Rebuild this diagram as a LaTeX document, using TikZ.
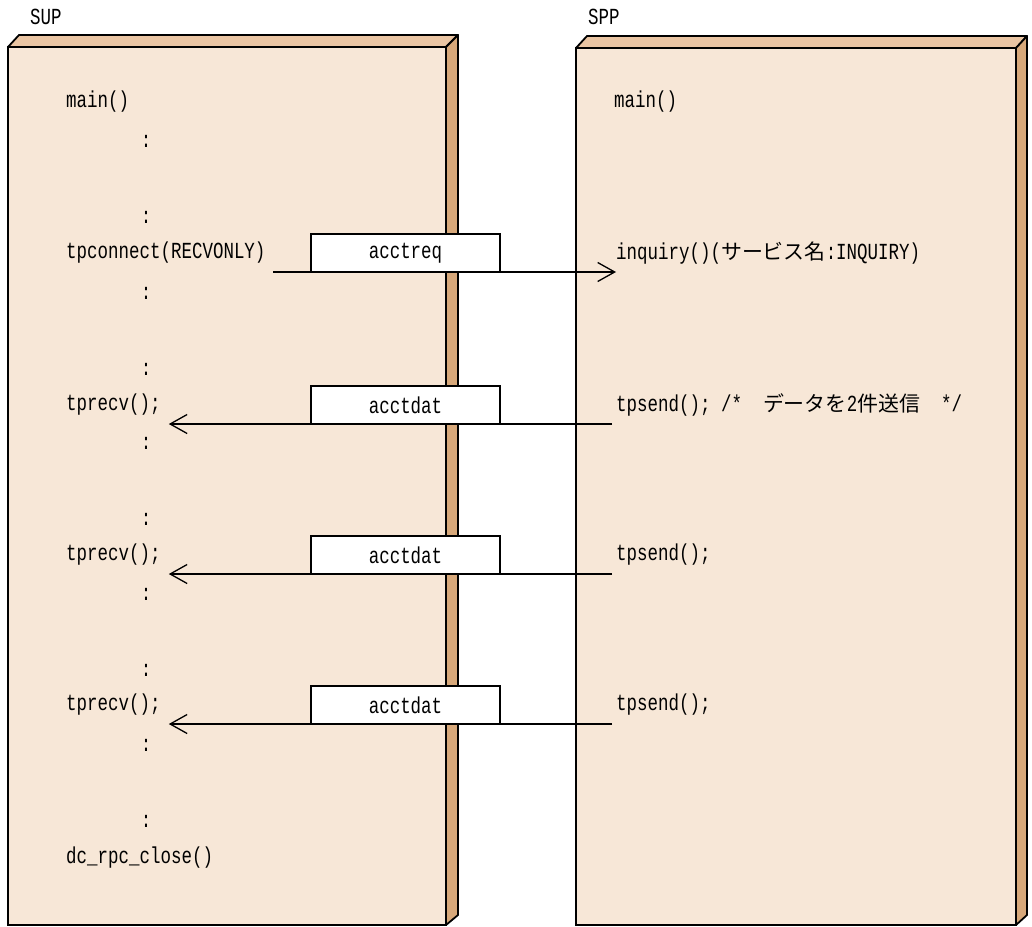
\documentclass[tikz,border=0pt]{standalone}
\usepackage{fontspec}
\setmainfont{Liberation Mono}[FakeStretch=0.76]
\newfontfamily\jpfont{Noto Sans CJK JP}[Scale=0.91]
\usetikzlibrary{arrows.meta}
\definecolor{face}{RGB}{247,231,215}
\definecolor{lid}{RGB}{234,197,163}
\definecolor{edge}{RGB}{215,168,122}
\tikzset{
  every node/.style={font=\fontsize{23}{27}\selectfont,inner sep=0pt},
  code/.style={anchor=west},
  dots/.style={anchor=center},
  msgbox/.style={draw,fill=white,line width=1.3pt,minimum width=189pt,minimum height=38pt},
  msg/.style={line width=1.3pt,-{Straight Barb[length=17pt,width=19pt,line width=1.3pt]}}
}
\begin{document}
\begin{tikzpicture}[x=1pt,y=-1pt]
  \useasboundingbox (0,0) rectangle (1032,926);
  % SUP panel
  \filldraw[fill=face,line width=1.8pt] (8,47) rectangle (446,925);
  \filldraw[fill=lid,line width=1.8pt,line join=round] (8,47) -- (19,35) -- (458,35) -- (446,47) -- cycle;
  \filldraw[fill=edge,line width=1.8pt,line join=round] (446,47) -- (458,35) -- (458,915) -- (446,925) -- cycle;
  % SPP panel
  \filldraw[fill=face,line width=1.8pt] (576,48) rectangle (1016,925);
  \filldraw[fill=lid,line width=1.8pt,line join=round] (576,48) -- (587,36) -- (1027,36) -- (1016,48) -- cycle;
  \filldraw[fill=edge,line width=1.8pt,line join=round] (1016,48) -- (1027,36) -- (1027,915) -- (1016,925) -- cycle;
  \node[code] (sup) at (30,17) {SUP};
  \node[code] (spp) at (588,17) {SPP};
  % SUP side
  \node[code] (main1) at (66,102) {main()};
  \node[dots] at (146,141) {:};
  \node[dots] at (146,217) {:};
  \node[code] (conn) at (66,253) {tpconnect(RECVONLY)};
  \node[dots] at (146,293) {:};
  \node[dots] at (146,369) {:};
  \node[code] (recv1) at (66,405) {tprecv();};
  \node[dots] at (146,443) {:};
  \node[dots] at (146,519) {:};
  \node[code] (recv2) at (66,555) {tprecv();};
  \node[dots] at (146,594) {:};
  \node[dots] at (146,670) {:};
  \node[code] (recv3) at (66,705) {tprecv();};
  \node[dots] at (146,745) {:};
  \node[dots] at (146,821) {:};
  \node[code] (close) at (66,858) {dc\_rpc\_close()};
  % SPP side
  \node[code] (main2) at (614,102) {main()};
  \node[code] (inq) at (616,253) {inquiry()({\jpfont サービス名}:INQUIRY)};
  \node[code] (send1) at (616,405) {tpsend();\ /*\ \ {\jpfont データを}2{\jpfont 件送信}\ \ */};
  \node[code] (send2) at (616,555) {tpsend();};
  \node[code] (send3) at (616,705) {tpsend();};
  % messages
  \node[msgbox] (req) at (405.5,253) {acctreq};
  \node[msgbox] (dat1) at (405.5,405) {acctdat};
  \node[msgbox] (dat2) at (405.5,555) {acctdat};
  \node[msgbox] (dat3) at (405.5,705) {acctdat};
  \coordinate (r0) at (273,272);
  \coordinate (d1) at (612,424);
  \coordinate (d2) at (612,574);
  \coordinate (d3) at (612,724);
  \draw[msg] (r0) -- (r0 -| inq.west);
  \draw[msg] (d1) -- ([xshift=8pt]recv1.east |- d1);
  \draw[msg] (d2) -- ([xshift=8pt]recv2.east |- d2);
  \draw[msg] (d3) -- ([xshift=8pt]recv3.east |- d3);
\end{tikzpicture}
\end{document}
